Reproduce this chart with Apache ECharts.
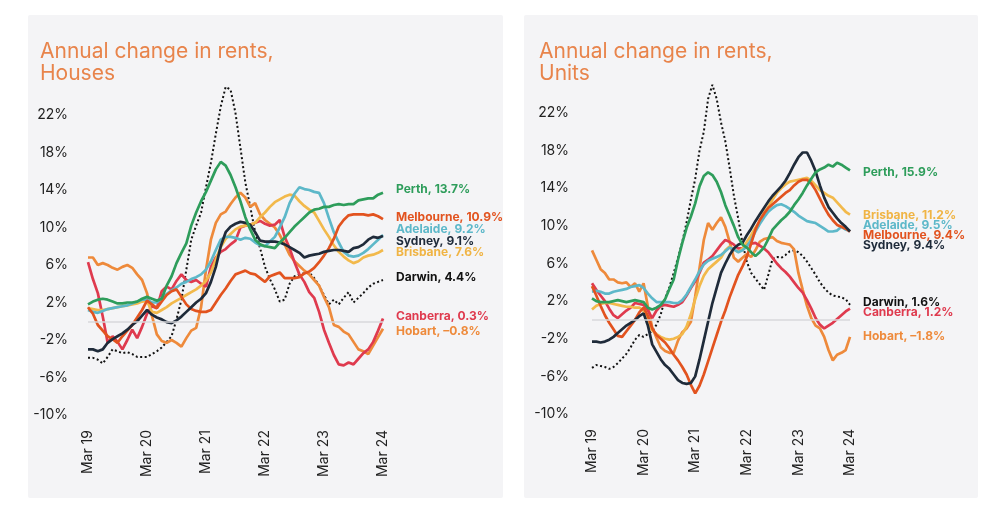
<!DOCTYPE html>
<html><head><meta charset="utf-8">
<script src="https://cdn.jsdelivr.net/npm/echarts@6/dist/echarts.min.js"></script>
<style>html,body{margin:0;padding:0;background:#fff}#c{width:982px;height:510px}</style>
</head><body><div id="c"></div>
<script>
// ---------- DATA ----------
const monthNames = ['Jan','Feb','Mar','Apr','May','Jun','Jul','Aug','Sep','Oct','Nov','Dec'];
const categories = [];
for (let k = 0; k <= 60; k++) {
  const m = (2 + k) % 12, y = 19 + Math.floor((2 + k) / 12);
  categories.push(monthNames[m] + ' ' + y);
}
const yTicks = [-10, -6, -2, 2, 6, 10, 14, 18, 22];
const cities = ['Perth','Melbourne','Adelaide','Sydney','Brisbane','Darwin','Canberra','Hobart'];

// Houses
const housesPerth = [1.8,2.1,2.3,2.4,2.3,2.1,1.9,1.9,2.0,2.0,2.1,2.4,2.6,2.4,2.2,2.4,3.8,4.8,6.2,7.3,8.3,10.2,11.6,12.8,13.8,15.0,16.2,17.0,16.6,15.6,14.3,12.8,11.1,9.8,8.7,8.2,8.0,7.9,7.8,8.4,8.9,9.5,10.1,10.6,11.1,11.6,11.9,12.0,12.2,12.2,12.4,12.5,12.4,12.5,12.5,12.9,13.0,13.1,13.1,13.5,13.7];
const housesMelbourne = [1.5,0.8,-0.4,-1.0,-1.6,-1.9,-2.3,-1.6,-1.0,-0.4,0.4,1.2,2.2,1.8,1.4,2.1,2.8,3.2,3.4,2.6,1.8,1.3,1.1,1.0,1.0,1.2,2.0,2.8,3.5,4.3,5.0,5.2,5.4,5.1,5.0,4.6,4.2,4.8,5.0,5.2,4.6,4.6,4.6,4.7,5.1,5.3,5.7,6.3,7.0,7.8,8.8,10.1,10.8,11.3,11.4,11.4,11.4,11.3,11.4,11.2,10.9];
const housesAdelaide = [1.2,1.0,0.9,1.1,1.3,1.4,1.5,1.6,1.7,1.9,2.1,2.3,2.3,2.0,2.0,2.5,2.9,3.3,3.6,4.0,4.2,4.5,4.7,5.0,5.5,6.4,7.6,8.7,9.0,9.0,8.9,8.7,8.9,8.8,8.4,8.1,8.0,8.5,9.0,10.0,11.1,12.6,13.6,14.3,14.1,14.0,13.8,13.7,12.6,11.0,9.5,8.4,7.4,7.0,6.9,7.0,7.3,7.7,8.2,8.7,9.2];
const housesSydney = [-3.0,-3.0,-3.2,-3.0,-2.3,-1.9,-1.6,-1.3,-0.9,-0.4,0.0,0.6,1.2,0.7,0.4,0.2,-0.1,-0.2,0.1,0.5,1.0,1.5,2.0,2.4,3.0,4.2,5.8,8.0,9.5,10.1,10.4,10.6,10.5,10.3,9.5,8.6,8.5,8.5,8.5,8.4,8.2,7.9,7.6,7.3,6.8,7.0,7.1,7.2,7.4,7.5,7.6,7.6,7.5,7.4,7.8,7.9,8.2,8.7,9.0,8.9,9.1];
const housesBrisbane = [1.4,1.3,1.2,1.2,1.3,1.4,1.5,1.6,1.7,1.8,1.9,2.1,2.2,1.0,0.9,1.2,1.5,1.9,2.2,2.5,2.8,3.1,3.4,3.8,4.3,5.2,6.6,7.9,8.8,9.3,9.8,10.1,10.2,10.3,10.5,11.1,11.6,12.2,12.7,13.0,13.3,13.5,13.4,12.8,12.3,11.9,11.6,10.7,9.8,9.0,8.1,7.4,6.9,6.5,6.2,6.4,6.8,7.0,7.1,7.3,7.6];
const housesDarwin = [-3.9,-3.9,-4.1,-4.5,-3.8,-3.0,-3.2,-3.4,-3.3,-3.5,-3.8,-3.8,-3.8,-3.5,-3.2,-2.8,-2.2,-1.6,0.2,2.3,5.5,8.7,10.2,11.6,14.3,16.9,20.0,22.9,25.0,24.7,22.2,18.5,14.8,12.2,9.5,7.8,5.8,4.5,3.4,2.1,2.3,4.0,4.8,5.0,5.1,5.2,4.6,3.8,2.8,1.8,2.3,1.8,2.5,3.1,2.0,2.5,3.0,3.6,4.0,4.2,4.4];
const housesCanberra = [6.3,4.5,3.0,0.5,-2.3,-1.6,-2.2,-3.0,-2.0,-0.9,-1.8,-0.6,0.8,1.6,1.4,3.2,3.7,3.4,4.3,5.0,4.4,4.2,4.4,4.0,3.7,5.8,6.8,7.4,7.7,8.2,8.6,10.0,10.2,10.3,10.5,10.7,10.4,10.2,10.3,10.8,9.0,7.8,6.3,5.0,4.2,3.1,2.5,1.0,-0.9,-2.3,-3.6,-4.6,-4.7,-4.4,-4.6,-4.0,-3.4,-3.0,-2.2,-1.0,0.3];
const housesHobart = [6.8,6.8,6.0,6.2,6.0,5.7,5.5,5.8,6.0,5.7,5.0,4.4,3.0,0.6,-1.4,-2.1,-2.3,-2.0,-2.3,-2.7,-1.8,-1.0,-0.7,1.5,5.5,8.7,10.5,11.4,11.7,12.5,13.2,13.7,13.2,12.2,12.6,11.4,10.8,10.4,10.0,9.2,8.2,7.1,6.4,5.9,5.4,5.0,4.4,3.8,2.6,1.5,-0.4,-0.6,-1.1,-1.4,-2.2,-3.0,-3.2,-3.5,-2.6,-1.7,-0.8];

// Units
const unitsPerth = [2.3,2.0,1.9,1.9,1.9,2.0,2.1,2.0,1.9,2.0,2.1,2.0,1.9,1.3,1.1,1.3,1.6,2.2,3.3,4.3,6.4,8.2,9.8,11.0,12.4,14.2,15.3,15.7,15.4,14.7,13.6,12.2,11.1,10.0,8.8,8.0,7.7,7.2,6.8,7.2,7.7,8.6,9.6,10.1,10.6,11.0,11.5,12.2,12.8,13.5,14.3,15.0,15.7,16.0,16.2,16.5,16.3,16.7,16.5,16.2,15.9];
const unitsMelbourne = [3.6,2.6,1.5,0.5,-0.3,-1.0,-1.7,-1.8,-1.2,-0.6,0.0,0.8,1.3,0.4,-0.9,-1.6,-2.0,-2.4,-3.0,-3.7,-4.3,-5.0,-5.8,-6.9,-7.8,-7.0,-5.8,-4.4,-3.0,-1.6,-0.2,1.0,2.4,3.6,4.8,5.7,6.7,8.1,9.6,10.6,11.3,11.9,12.3,12.7,13.1,13.5,13.8,14.3,14.7,14.9,14.9,14.5,13.8,12.9,12.0,11.2,10.6,10.1,9.9,9.7,9.4];
const unitsAdelaide = [3.0,3.1,3.0,2.8,2.8,3.0,3.1,3.2,3.3,3.5,3.6,3.7,3.4,2.8,2.3,1.9,1.9,1.9,1.9,1.8,1.8,2.1,2.7,3.5,4.3,5.2,5.9,6.3,6.5,6.7,6.9,7.3,7.7,7.5,7.2,7.4,7.8,8.5,9.4,10.2,10.9,11.5,11.9,12.2,12.3,12.1,11.8,11.5,11.1,10.8,10.5,10.4,10.3,10.0,9.7,9.4,9.4,9.5,9.9,9.6,9.5];
const unitsSydney = [-2.3,-2.3,-2.4,-2.3,-2.1,-1.8,-1.4,-1.0,-0.6,-0.3,0.0,0.4,0.7,-0.6,-2.6,-3.4,-4.2,-4.8,-5.2,-5.8,-6.4,-6.7,-6.8,-6.7,-6.0,-4.2,-2.2,-0.2,1.8,3.4,5.0,6.0,6.9,7.6,8.0,8.2,9.0,9.7,10.5,11.2,11.9,12.6,13.2,13.7,14.2,14.8,15.6,16.5,17.3,17.8,17.8,16.9,15.8,14.3,13.0,12.0,11.4,10.8,10.3,9.9,9.4];
const unitsBrisbane = [1.1,1.5,1.7,1.8,1.8,1.7,1.6,1.5,1.4,1.4,1.3,1.3,1.0,-0.2,-1.1,-1.5,-1.8,-2.0,-2.1,-2.0,-1.8,-1.5,-0.7,0.6,2.2,3.6,4.7,5.4,5.8,6.2,6.6,7.4,7.8,7.5,7.2,7.6,8.3,9.0,9.8,10.5,11.4,12.0,12.8,13.5,14.0,14.4,14.7,14.8,14.9,15.0,15.1,14.8,14.3,13.8,13.5,13.2,13.0,12.5,12.0,11.5,11.2];
const unitsDarwin = [-5.1,-4.8,-4.9,-5.0,-5.2,-5.0,-4.6,-4.1,-3.6,-2.9,-2.1,-1.6,-1.8,-1.5,-1.2,-0.5,0.6,2.3,3.5,5.0,6.6,8.3,10.4,12.8,15.0,18.0,20.0,23.5,25.0,23.5,21.0,19.0,16.2,13.2,10.8,8.2,6.2,5.0,4.4,3.8,3.2,4.8,6.5,6.7,6.6,6.9,7.3,7.4,7.2,6.8,6.2,5.5,4.8,4.0,3.4,2.9,2.6,2.5,2.4,2.2,1.6];
const unitsCanberra = [3.9,3.2,2.6,2.0,1.2,0.5,0.2,0.6,1.0,1.3,1.8,1.7,1.6,1.0,0.2,1.0,1.5,1.6,1.5,1.4,1.6,1.9,2.6,3.4,4.1,5.0,6.1,6.4,6.8,7.4,8.0,8.5,8.3,8.0,7.6,7.6,8.0,8.1,8.2,7.9,7.6,7.2,6.6,6.0,5.5,5.1,4.6,4.0,3.4,2.9,2.1,1.2,0.2,-0.5,-0.9,-0.6,-0.3,0.1,0.5,0.9,1.2];
const unitsHobart = [7.4,6.4,5.4,5.0,4.3,4.3,4.0,3.9,4.0,3.5,3.9,3.0,3.9,1.4,-0.8,-1.9,-2.9,-3.3,-3.5,-3.5,-2.2,-1.3,-0.9,-0.2,2.5,5.5,8.5,10.3,9.6,10.3,10.9,9.9,8.3,6.6,6.2,6.6,7.0,6.7,7.4,8.3,8.6,8.7,8.8,8.4,8.2,8.1,8.0,7.5,5.0,3.2,1.5,0.2,-0.6,-0.9,-1.8,-3.2,-4.3,-3.7,-3.5,-3.2,-1.8];

// ---------- STYLE ----------
const FONT = 'Inter, "Noto Sans", sans-serif';
const styles = {
  Perth:     {color: '#2E9D5B'},
  Melbourne: {color: '#E2531F'},
  Adelaide:  {color: '#5DB8C9'},
  Sydney:    {color: '#1F2B3A'},
  Brisbane:  {color: '#F2B94B', label: '#F0B444'},
  Darwin:    {color: '#111111', dotted: true},
  Canberra:  {color: '#DF3A4E'},
  Hobart:    {color: '#EE8A3B'}
};
const housesData = {Perth: housesPerth, Melbourne: housesMelbourne, Adelaide: housesAdelaide, Sydney: housesSydney,
  Brisbane: housesBrisbane, Darwin: housesDarwin, Canberra: housesCanberra, Hobart: housesHobart};
const unitsData = {Perth: unitsPerth, Melbourne: unitsMelbourne, Adelaide: unitsAdelaide, Sydney: unitsSydney,
  Brisbane: unitsBrisbane, Darwin: unitsDarwin, Canberra: unitsCanberra, Hobart: unitsHobart};
// label vertical nudges (px) to avoid overlap
const housesLabelDy = {Perth: -3, Melbourne: -2, Adelaide: -6, Sydney: 5, Brisbane: 2, Darwin: -3, Canberra: -2, Hobart: 3};
const unitsLabelDy = {Perth: 2, Melbourne: 4, Adelaide: -5, Sydney: 14, Brisbane: 1, Darwin: -2, Canberra: 4, Hobart: 0};

function fmtVal(v) { return (v < 0 ? '\u2013' + Math.abs(v).toFixed(1) : v.toFixed(1)) + '%'; }

function makeSeries(dataMap, dyMap, gi) {
  const out = [];
  // zero line
  out.push({type: 'line', xAxisIndex: gi, yAxisIndex: gi, data: [], silent: true, z: 1,
    markLine: {silent: true, symbol: 'none', label: {show: false},
      lineStyle: {color: '#d9d9db', width: 1.5, type: 'solid'}, data: [{yAxis: 0}]}});
  const order = ['Darwin','Hobart','Canberra','Brisbane','Adelaide','Melbourne','Sydney','Perth'];
  order.forEach(name => {
    const st = styles[name];
    const d = dataMap[name];
    out.push({
      name: name, type: 'line', xAxisIndex: gi, yAxisIndex: gi, data: d,
      showSymbol: false, symbol: 'none', clip: false, z: 3, smooth: false,
      lineStyle: {color: st.color, width: st.dotted ? 2 : 2.7, type: st.dotted ? [2, 2.5] : 'solid'},
      itemStyle: {color: st.color},
      endLabel: {show: true, distance: 0, offset: [13, dyMap[name]],
        formatter: () => name + ', ' + fmtVal(d[d.length - 1]),
        color: st.label || st.color, fontFamily: FONT, fontWeight: 'bold', fontSize: 12}
    });
  });
  return out;
}

const axisLabelX = {interval: 11, rotate: 90, color: '#222', fontFamily: FONT, fontSize: 14, margin: 15};
function yAxis(gi, margin) {
  return {type: 'value', gridIndex: gi, min: -10, max: 22, interval: 4,
    axisLine: {show: false}, axisTick: {show: false}, splitLine: {show: false},
    axisLabel: {color: '#222', fontFamily: FONT, fontSize: 14, margin: margin, formatter: v => v + '%'}};
}

const TITLE_STYLE = {color: '#E8844B', fontFamily: FONT, fontWeight: 'normal', fontSize: 21, lineHeight: 22};
const chart = echarts.init(document.getElementById('c'), null, {renderer: 'canvas'});
chart.setOption({
  animation: false,
  backgroundColor: '#ffffff',
  graphic: [
    {type: 'rect', shape: {x: 28, y: 15, width: 475, height: 483, r: 2}, style: {fill: '#F4F4F6'}, z: -10},
    {type: 'rect', shape: {x: 524, y: 15, width: 454, height: 483, r: 2}, style: {fill: '#F4F4F6'}, z: -10}
  ],
  title: [
    {text: 'Annual change in rents,\nHouses', left: 35, top: 36, textStyle: TITLE_STYLE},
    {text: 'Annual change in rents,\nUnits', left: 534, top: 36, textStyle: TITLE_STYLE}
  ],
  grid: [
    {left: 88, right: 982 - 383, top: 115, bottom: 510 - 415},
    {left: 592, right: 982 - 850, top: 113, bottom: 510 - 414}
  ],
  xAxis: [
    {type: 'category', gridIndex: 0, data: categories, boundaryGap: false,
      axisLine: {show: false}, axisTick: {show: false}, axisLabel: axisLabelX},
    {type: 'category', gridIndex: 1, data: categories, boundaryGap: false,
      axisLine: {show: false}, axisTick: {show: false}, axisLabel: axisLabelX}
  ],
  yAxis: [yAxis(0, 20), yAxis(1, 23)],
  series: makeSeries(housesData, housesLabelDy, 0).concat(makeSeries(unitsData, unitsLabelDy, 1))
});
</script></body></html>
